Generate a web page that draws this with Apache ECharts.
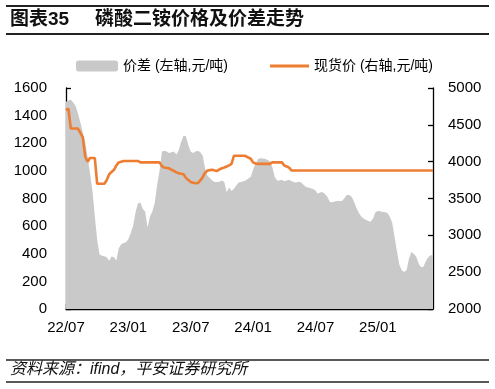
<!DOCTYPE html>
<html><head><meta charset="utf-8">
<script src="https://cdn.jsdelivr.net/npm/echarts@6/dist/echarts.min.js"></script>
<style>html,body{margin:0;padding:0;background:#fff}#c{width:495px;height:389px}</style>
</head><body><div id="c"></div>
<script>
const categories = [
'2022-07-01','2022-07-08','2022-07-15','2022-07-22','2022-07-29','2022-08-05','2022-08-12','2022-08-19','2022-08-26','2022-09-02',
'2022-09-09','2022-09-16','2022-09-23','2022-09-30','2022-10-07','2022-10-14','2022-10-21','2022-10-28','2022-11-04','2022-11-11',
'2022-11-18','2022-11-25','2022-12-02','2022-12-09','2022-12-16','2022-12-23','2022-12-30',
'2023-01-06','2023-01-13','2023-01-20','2023-01-27','2023-02-03','2023-02-10','2023-02-17','2023-02-24','2023-03-03','2023-03-10',
'2023-03-17','2023-03-24','2023-03-31','2023-04-07','2023-04-14','2023-04-21','2023-04-28','2023-05-05','2023-05-12','2023-05-19',
'2023-05-26','2023-06-02','2023-06-09','2023-06-16','2023-06-23','2023-06-30','2023-07-07','2023-07-14','2023-07-21','2023-07-28',
'2023-08-04','2023-08-11','2023-08-18','2023-08-25','2023-09-01','2023-09-08','2023-09-15','2023-09-22','2023-09-29','2023-10-06',
'2023-10-13','2023-10-20','2023-10-27','2023-11-03','2023-11-10','2023-11-17','2023-11-24','2023-12-01','2023-12-08','2023-12-15',
'2023-12-22','2023-12-29',
'2024-01-05','2024-01-12','2024-01-19','2024-01-26','2024-02-02','2024-02-09','2024-02-16','2024-02-23','2024-03-01','2024-03-08',
'2024-03-15','2024-03-22','2024-03-29','2024-04-05','2024-04-12','2024-04-19','2024-04-26','2024-05-03','2024-05-10','2024-05-17',
'2024-05-24','2024-05-31','2024-06-07','2024-06-14','2024-06-21','2024-06-28','2024-07-05','2024-07-12','2024-07-19','2024-07-26',
'2024-08-02','2024-08-09','2024-08-16','2024-08-23','2024-08-30','2024-09-06','2024-09-13','2024-09-20','2024-09-27','2024-10-04',
'2024-10-11','2024-10-18','2024-10-25','2024-11-01','2024-11-08','2024-11-15','2024-11-22','2024-11-29','2024-12-06','2024-12-13',
'2024-12-20','2024-12-27',
'2025-01-03','2025-01-10','2025-01-17','2025-01-24','2025-01-31','2025-02-07','2025-02-14','2025-02-21','2025-02-28','2025-03-07',
'2025-03-14','2025-03-21','2025-03-28','2025-04-04','2025-04-11','2025-04-18','2025-04-25','2025-05-02','2025-05-09','2025-05-16',
'2025-05-23','2025-05-30','2025-06-06'
];
const spreadValues = [
1500,1510,1515,1495,1470,1415,1350,1280,1205,1100,
985,860,675,500,395,386,382,375,350,380,
375,352,440,468,477,484,505,550,605,700,
765,770,725,705,590,670,705,770,900,1000,
1140,1145,1140,1130,1135,1140,1118,1150,1210,1255,
1250,1185,1138,1130,1140,1145,1135,1110,1015,965,
949,930,920,920,922,930,920,845,880,855,
870,895,915,920,925,933,945,955,1010,1050,
1085,1092,1090,1087,1078,1068,1030,955,930,930,
935,925,930,935,927,918,915,922,915,900,
884,879,875,868,858,835,845,845,832,810,
775,772,778,782,782,782,800,825,826,815,
780,735,698,672,656,647,638,632,655,700,
709,707,703,701,695,668,625,520,415,318,
280,268,282,365,412,398,380,330,302,306,
345,375,389,389
];
const spotValues = [
4700,4720,4450,4450,4450,4450,4390,4330,4070,4000,
4050,4050,4050,3700,3700,3700,3700,3750,3830,3860,
3890,3950,3990,4000,4010,4010,4010,4010,4010,4010,
4010,3990,3990,3990,3990,3990,3990,3990,3990,3990,
3940,3920,3915,3910,3890,3875,3855,3843,3835,3830,
3780,3750,3725,3715,3707,3710,3745,3790,3850,3880,
3885,3890,3880,3875,3895,3910,3920,3934,3950,3970,
4080,4080,4080,4080,4080,4075,4056,4040,3990,3975,
3970,3970,3970,3970,3970,3970,3990,3990,3990,3990,
3990,3948,3935,3920,3880,3880,3880,3880,3880,3880,
3880,3880,3880,3880,3880,3880,3880,3880,3880,3880,
3880,3880,3880,3880,3880,3880,3880,3880,3880,3880,
3880,3880,3880,3880,3880,3880,3880,3880,3880,3880,
3880,3880,3880,3880,3880,3880,3880,3880,3880,3880,
3880,3880,3880,3880,3880,3880,3880,3880,3880,3880,
3880,3880,3880,3880
];
const leftTicks = {min:0, max:1600, interval:200};
const rightTicks = {min:2000, max:5000, interval:500};
const seriesNames = ['价差 (左轴,元/吨)','现货价 (右轴,元/吨)'];

const FONT = '"Liberation Sans", Arial, "Noto Sans CJK SC", sans-serif';
function parse(s){ return new Date(s + 'T00:00:00Z'); }
function isMark(s){
  const d = parse(s), e = new Date(d.getTime() + 6*86400000);
  const has = d.getUTCDate() === 1 || e.getUTCMonth() !== d.getUTCMonth();
  return has && (e.getUTCMonth() === 0 || e.getUTCMonth() === 6);
}
function fmt(s){
  const e = new Date(parse(s).getTime() + 6*86400000);
  const yy = String(e.getUTCFullYear()).slice(2);
  const mm = String(e.getUTCMonth()+1).padStart(2,'0');
  return yy + '/' + mm;
}
const chart = echarts.init(document.getElementById('c'), null, {renderer:'canvas'});
const axisLineStyle = {color:'#000', width:1.3};
const lbl = {color:'#000', fontSize:15, fontFamily:FONT};
chart.setOption({
  animation:false,
  backgroundColor:'#fff',
  grid:{left:66, right:62, top:88, bottom:80, containLabel:false},
  legend:[
    {data:[{name:seriesNames[0], icon:'roundRect'}], left:76, top:59, padding:0, itemWidth:42, itemHeight:11,
     textStyle:{fontSize:14, color:'#000', fontFamily:FONT, lineHeight:14}},
    {data:[{name:seriesNames[1], icon:'rect'}], left:270, top:59, padding:0, itemWidth:39, itemHeight:3,
     textStyle:{fontSize:14, color:'#000', fontFamily:FONT, lineHeight:14}}
  ],
  xAxis:{
    type:'category', data:categories, boundaryGap:false,
    axisLine:{show:true, lineStyle:axisLineStyle},
    axisTick:{show:true, inside:true, length:5, lineStyle:axisLineStyle, interval:(i,v)=>isMark(v)},
    axisLabel:Object.assign({interval:(i,v)=>isMark(v), formatter:v=>fmt(v), margin:11, hideOverlap:false}, lbl),
    splitLine:{show:false}
  },
  yAxis:[
    {type:'value', position:'left', min:leftTicks.min, max:leftTicks.max, interval:leftTicks.interval,
     axisLine:{show:true, lineStyle:axisLineStyle},
     axisTick:{show:true, inside:true, length:5, lineStyle:axisLineStyle},
     axisLabel:Object.assign({margin:19, formatter:v=>String(v)}, lbl), splitLine:{show:false}},
    {type:'value', position:'right', min:rightTicks.min, max:rightTicks.max, interval:rightTicks.interval,
     axisLine:{show:true, lineStyle:axisLineStyle},
     axisTick:{show:true, inside:true, length:5, lineStyle:axisLineStyle},
     axisLabel:Object.assign({margin:15, formatter:v=>String(v)}, lbl), splitLine:{show:false}}
  ],
  series:[
    {name:seriesNames[0], type:'line', yAxisIndex:0, data:spreadValues, symbol:'none', showSymbol:false,
     itemStyle:{color:'#c9c9c9'}, lineStyle:{width:0, color:'#c9c9c9'},
     areaStyle:{color:'#c9c9c9', opacity:1}, z:1},
    {name:seriesNames[1], type:'line', yAxisIndex:1, data:spotValues, symbol:'none', showSymbol:false,
     itemStyle:{color:'#ED7D31'}, lineStyle:{width:2.6, color:'#ED7D31'}, z:3}
  ],
  graphic:[
    {type:'line', shape:{x1:6, y1:6, x2:489, y2:6}, style:{stroke:'#222', lineWidth:2}},
    {type:'line', shape:{x1:6, y1:34, x2:489, y2:34}, style:{stroke:'#222', lineWidth:2.2}},
    {type:'text', left:10, top:10, style:{text:'图表35', fontSize:19, fontWeight:'bold', fill:'#111', fontFamily:FONT}},
    {type:'text', left:95, top:10, style:{text:'磷酸二铵价格及价差走势', fontSize:19, fontWeight:'bold', fill:'#111', fontFamily:FONT}},
    {type:'line', shape:{x1:6, y1:360, x2:489, y2:360}, style:{stroke:'#222', lineWidth:1.6}},
    {type:'line', shape:{x1:6, y1:382, x2:489, y2:382}, style:{stroke:'#222', lineWidth:1.6}},
    {type:'text', left:10, top:362, style:{text:'资料来源：ifind，平安证券研究所', fontSize:16, fontStyle:'italic', fill:'#111', fontFamily:FONT}}
  ]
});
</script></body></html>
